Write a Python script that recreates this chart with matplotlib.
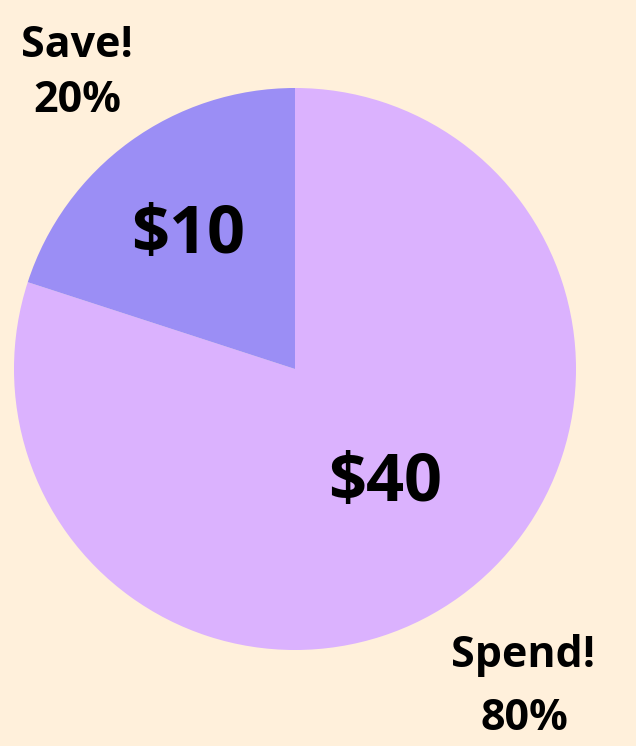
import matplotlib.pyplot as plt

labels = ['Spend!', 'Save!']
amounts = [40, 10]
colors = ['#dbb2fe', '#9b8ef5']
bg = '#fff0db'

W, H = 636, 746
fig = plt.figure(figsize=(W / 100, H / 100), dpi=100, facecolor=bg)
ax = fig.add_axes([0, 0, 1, 1])

total = sum(amounts)
ax.pie(amounts, colors=colors, startangle=90, counterclock=False,
       center=(295, H - 369), radius=281, frame=True,
       wedgeprops={'linewidth': 0})
ax.set_xlim(0, W)
ax.set_ylim(0, H)
ax.set_aspect('equal')
ax.axis('off')

font = {'family': ['Open Sans', 'DejaVu Sans'], 'weight': 'bold', 'color': 'black'}

# value labels inside the slices (x centre, baseline y in pixels from top)
value_pos = [(385, 501), (188, 253)]
for (x, y), v in zip(value_pos, amounts):
    ax.text(x, H - y, '$%d' % v, ha='center', va='baseline', fontsize=48, **font)

# outer name / percent labels
name_pos = [(523, 667), (77, 57)]
pct_pos = [(524, 730), (77, 112)]
for (nx, ny), (px, py), lab, v in zip(name_pos, pct_pos, labels, amounts):
    ax.text(nx, H - ny, lab, ha='center', va='baseline', fontsize=31, **font)
    ax.text(px, H - py, '%d%%' % round(100 * v / total), ha='center',
            va='baseline', fontsize=31, **font)

fig.savefig('out.png', dpi=100, facecolor=bg)
